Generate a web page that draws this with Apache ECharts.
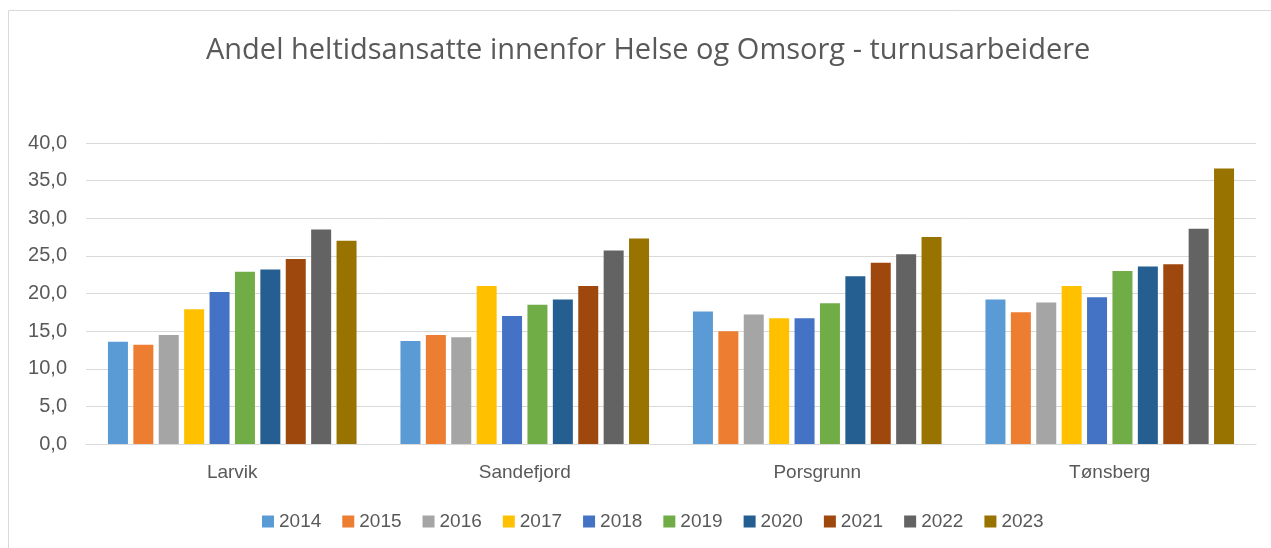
<!DOCTYPE html>
<html>
<head>
<meta charset="utf-8">
<script src="https://cdn.jsdelivr.net/npm/echarts@6/dist/echarts.min.js"></script>
<style>
  html, body { margin: 0; padding: 0; background: #fff; }
  #chart { width: 1271px; height: 548px; }
</style>
</head>
<body>
<div id="chart"></div>
<script>
// kommuner og år
const kommuner = ['Larvik', 'Sandefjord', 'Porsgrunn', 'Tønsberg'];
const aar = ['2014', '2015', '2016', '2017', '2018', '2019', '2020', '2021', '2022', '2023'];
const farger = ['#5b9bd5', '#ed7d31', '#a5a5a5', '#ffc000', '#4472c4', '#70ad47', '#255e91', '#9e480e', '#636363', '#997300'];

// andel heltid per år, en verdi per kommune
const v2014 = [13.6, 13.7, 17.6, 19.2];
const v2015 = [13.2, 14.5, 15.0, 17.5];
const v2016 = [14.5, 14.2, 17.2, 18.8];
const v2017 = [17.9, 21.0, 16.7, 21.0];
const v2018 = [20.2, 17.0, 16.7, 19.5];
const v2019 = [22.9, 18.5, 18.7, 23.0];
const v2020 = [23.2, 19.2, 22.3, 23.6];
const v2021 = [24.6, 21.0, 24.1, 23.9];
const v2022 = [28.5, 25.7, 25.2, 28.6];
const v2023 = [27.0, 27.3, 27.5, 36.6];
const verdier = [v2014, v2015, v2016, v2017, v2018, v2019, v2020, v2021, v2022, v2023];

const yTicks = [0, 5, 10, 15, 20, 25, 30, 35, 40];

let myChart = echarts.init(document.getElementById('chart'));

let option = {
  animation: false,
  color: farger,
  textStyle: { fontFamily: 'Liberation Sans, Arial, sans-serif' },
  title: {
    text: 'Andel heltidsansatte innenfor Helse og Omsorg - turnusarbeidere',
    left: 201,
    top: 31,
    textStyle: { fontFamily: 'Open Sans, sans-serif', fontSize: 29, fontWeight: 'normal', color: '#595959' }
  },
  graphic: [{
    type: 'polyline',
    shape: { points: [[8.5, 548], [8.5, 10.5], [1271, 10.5]] },
    style: { stroke: '#d9d9d9', lineWidth: 1, fill: null },
    silent: true
  }],
  legend: {
    data: aar,
    bottom: 12,
    left: 257,
    itemWidth: 12,
    itemHeight: 12,
    itemGap: 21,
    icon: 'rect',
    textStyle: { fontSize: 19, color: '#595959' }
  },
  grid: { left: 86, right: 15, top: 143, bottom: 104 },
  xAxis: {
    type: 'category',
    data: kommuner,
    axisTick: { show: false },
    axisLine: { lineStyle: { color: '#d9d9d9' } },
    axisLabel: { fontSize: 19, color: '#595959', margin: 19 }
  },
  yAxis: {
    type: 'value',
    min: yTicks[0],
    max: yTicks[yTicks.length - 1],
    interval: 5,
    axisLine: { show: false },
    axisTick: { show: false },
    splitLine: { lineStyle: { color: '#d9d9d9', width: 1 } },
    axisLabel: {
      fontSize: 20,
      color: '#595959',
      margin: 19,
      formatter: (v) => v.toFixed(1).replace('.', ',')
    }
  },
  series: aar.map((a, i) => ({
    name: a,
    type: 'bar',
    data: verdier[i],
    barWidth: 20,
    barGap: '27%',
    itemStyle: { color: farger[i] }
  }))
};

myChart.setOption(option);
</script>
</body>
</html>
